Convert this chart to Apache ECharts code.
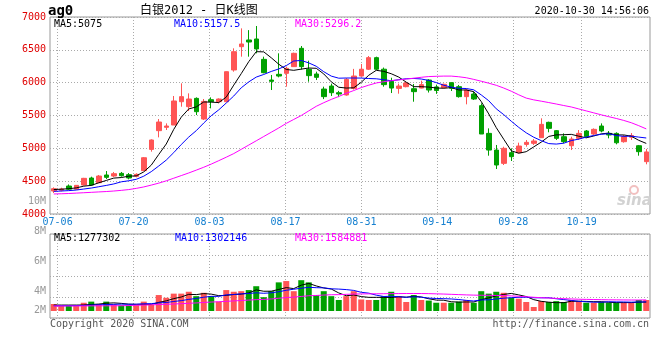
<!DOCTYPE html>
<html><head><meta charset="utf-8">
<script src="https://cdn.jsdelivr.net/npm/echarts@6/dist/echarts.min.js"></script>
<style>html,body{margin:0;padding:0;background:#fff}#c{width:660px;height:360px}</style>
</head><body><div id="c"></div>
<script>
const dates = ['07-03','07-06','07-07','07-08','07-09','07-10','07-13','07-14','07-15','07-16','07-17','07-20','07-21','07-22','07-23','07-24','07-27','07-28','07-29','07-30','07-31',
'08-03','08-04','08-05','08-06','08-07','08-10','08-11','08-12','08-13','08-14','08-17','08-18','08-19','08-20','08-21','08-24','08-25','08-26','08-27','08-28','08-31',
'09-01','09-02','09-03','09-04','09-07','09-08','09-09','09-10','09-11','09-14','09-15','09-16','09-17','09-18','09-21','09-22','09-23','09-24','09-25','09-28','09-29','09-30',
'10-09','10-12','10-13','10-14','10-15','10-16','10-19','10-20','10-21','10-22','10-23','10-26','10-27','10-28','10-29','10-30'];
const xLabels = ['07-06','07-20','08-03','08-17','08-31','09-14','09-28','10-19'];
const priceTicks = [4000,4500,5000,5500,6000,6500,7000];
const volTickLabels = ['10M','8M','6M','4M','2M'];

const opens = [4350,4362,4426,4378,4441,4548,4477,4594,4578,4619,
4599,4573,4660,4984,5269,5320,5355,5710,5634,5761,
5446,5741,5710,5710,6193,6548,6650,6665,6355,6040,
6127,6142,6244,6523,6203,6132,5903,5949,5847,5812,
5913,6101,6205,6381,6205,6020,5913,5939,5908,5918,
6040,5935,5924,6000,5939,5787,5827,5650,5228,4974,
4771,4934,4934,5060,5076,5162,5396,5269,5177,5040,
5152,5264,5218,5340,5228,5228,5101,5170,5040,4797];
const closes = [4385,4380,4378,4436,4543,4441,4578,4558,4614,4583,
4548,4604,4857,5127,5401,5340,5721,5787,5751,5558,
5715,5710,5751,6167,6472,6589,6619,6513,6152,6020,
6101,6218,6447,6244,6107,6081,5787,5847,5827,6050,
6101,6205,6381,6205,5970,5918,5949,5995,5863,5970,
5888,5880,5975,5914,5787,5888,5751,5218,4974,4746,
5000,4873,5035,5091,5112,5365,5304,5152,5101,5142,
5228,5178,5289,5264,5203,5085,5177,5195,4949,4945];
const lows = [4320,4345,4365,4372,4435,4431,4477,4533,4563,4568,
4528,4558,4655,4949,5167,5279,5355,5634,5568,5507,
5431,5609,5685,5705,6167,6396,6396,6447,6142,5888,
6081,5939,6244,6200,6015,6040,5750,5797,5780,5802,
5895,6091,6193,6193,5939,5842,5832,5929,5710,5913,
5850,5830,5914,5873,5772,5670,5736,5218,4888,4685,
4746,4807,4924,5025,5051,5162,5244,5127,5076,4974,
5127,5162,5203,5244,5152,5061,5086,5127,4888,4757];
const highs = [4405,4400,4450,4440,4550,4568,4594,4654,4640,4640,
4624,4619,4868,5137,5446,5380,5797,5990,5837,5776,
5751,5776,5761,6170,6523,6827,6800,6863,6396,6117,
6447,6244,6457,6558,6335,6167,5939,5985,5875,6070,
6210,6285,6406,6396,6230,6075,5985,6020,5980,6030,
6053,5970,5985,6005,5965,5903,5863,5685,5304,5051,
5025,5000,5086,5126,5142,5457,5406,5279,5228,5177,
5279,5279,5304,5380,5264,5244,5203,5233,5051,4990];

const ma5 = [4372,4378,4385,4398,4424,4436,4475,4511,4547,4555,
4576,4581,4641,4744,4907,5066,5289,5475,5600,5631,
5706,5704,5697,5780,5963,6138,6320,6472,6469,6379,
6281,6201,6188,6206,6223,6219,6133,6013,5930,5918,
5922,6006,6113,6188,6172,6136,6085,6007,5939,5939,
5933,5919,5915,5925,5889,5889,5863,5712,5524,5315,
5138,4962,4926,4949,5022,5095,5181,5205,5207,5213,
5185,5160,5188,5220,5232,5204,5204,5185,5122,5075];
const ma10 = [4345,4350,4356,4365,4380,4395,4415,4435,4458,4490,
4506,4528,4576,4645,4731,4821,4935,5058,5172,5269,
5386,5497,5586,5690,5797,5922,6012,6085,6125,6171,
6209,6260,6330,6338,6301,6250,6167,6100,6068,6071,
6071,6070,6063,6059,6045,6029,6045,6060,6064,6056,
6034,6002,5961,5932,5914,5911,5891,5813,5725,5602,
5513,5413,5319,5236,5169,5117,5072,5065,5078,5118,
5140,5171,5196,5214,5223,5195,5182,5186,5171,5157.5];
const ma30 = [4305,4308,4312,4318,4324,4330,4336,4342,4350,4360,
4372,4390,4412,4440,4470,4505,4545,4585,4625,4668,
4712,4760,4812,4865,4920,4985,5050,5115,5180,5245,
5310,5380,5440,5500,5570,5640,5695,5745,5790,5838,
5880,5925,5962,5995,6015,6030,6042,6055,6068,6082,
6093,6097,6100,6100,6090,6075,6050,6022,5992,5960,
5918,5870,5815,5765,5738,5718,5697,5675,5652,5630,
5600,5570,5540,5510,5482,5455,5425,5390,5345,5296.2];

const volumes = [1000000,710000,710000,710000,1180000,1340000,1000000,1340000,950000,810000,
810000,860000,1340000,860000,2280000,1890000,2480000,2480000,2750000,2120000,
2600000,2120000,1340000,2990000,2750000,2830000,2990000,3540000,1970000,2830000,
4090000,4280000,2830000,4400000,4090000,2280000,2830000,2120000,1570000,2120000,
2830000,1650000,1570000,1570000,2120000,2750000,2120000,1290000,2280000,1570000,
1490000,1180000,1180000,1180000,1340000,1570000,1180000,2830000,2480000,2750000,
2600000,1890000,1760000,1290000,570000,1410000,1290000,1410000,1290000,1570000,
1410000,1180000,1180000,1290000,1180000,1180000,1180000,1180000,1570000,1570000];
const volMa5 = [850000,850000,850000,850000,860000,930000,990000,1110000,1160000,1090000,
980000,950000,950000,940000,1230000,1450000,1770000,2000000,2380000,2340000,
2490000,2410000,2190000,2230000,2360000,2410000,2580000,3020000,2820000,2830000,
3080000,3340000,3200000,3690000,3940000,3580000,3290000,3140000,2580000,2180000,
2290000,2060000,1950000,1950000,1950000,1930000,2030000,1970000,2110000,2000000,
1750000,1560000,1540000,1320000,1270000,1290000,1290000,1620000,1880000,2160000,
2370000,2510000,2300000,2060000,1620000,1380000,1260000,1190000,1190000,1390000,
1390000,1370000,1330000,1330000,1250000,1200000,1200000,1200000,1260000,1277302];
const volMa10 = [750000,750000,760000,770000,800000,850000,880000,920000,950000,980000,
960000,970000,1030000,1050000,1160000,1210000,1360000,1480000,1660000,1790000,
1970000,2090000,2090000,2310000,2350000,2450000,2500000,2600000,2530000,2600000,
2750000,2960000,3110000,3250000,3390000,3330000,3310000,3170000,3130000,3060000,
2940000,2670000,2550000,2260000,2070000,2110000,2040000,1960000,2030000,1980000,
1840000,1790000,1760000,1720000,1640000,1520000,1430000,1580000,1600000,1720000,
1830000,1900000,1960000,1970000,1890000,1880000,1890000,1750000,1630000,1510000,
1390000,1320000,1260000,1260000,1320000,1300000,1290000,1260000,1290000,1302146];
const volMa30 = [720000,720000,720000,720000,730000,730000,740000,740000,750000,750000,
780000,820000,850000,880000,920000,960000,1000000,1050000,1100000,1150000,
1220000,1280000,1320000,1380000,1440000,1500000,1560000,1620000,1660000,1720000,
1820000,1920000,1980000,2080000,2180000,2220000,2280000,2320000,2340000,2380000,
2420000,2440000,2450000,2460000,2470000,2480000,2490000,2500000,2500000,2500000,
2480000,2450000,2420000,2380000,2340000,2300000,2270000,2250000,2240000,2220000,
2200000,2160000,2100000,2040000,1960000,1900000,1850000,1800000,1760000,1720000,
1680000,1660000,1640000,1620000,1600000,1590000,1580000,1570000,1570000,1584881];

const MONO = '"DejaVu Sans Mono", monospace';
const RED = '#ff5555', GREEN = '#00a000';
const labeled = new Set(xLabels);
const showIdx = (i) => labeled.has(dates[i]);
const candleData = dates.map((d, i) => [opens[i], closes[i], lows[i], highs[i]]);
const volData = volumes.map((v, i) => ({ value: v, itemStyle: { color: closes[i] >= opens[i] ? RED : GREEN } }));
const dotted = { type: [1, 2], color: '#aaaaaa', width: 1 };
const fmt = (v) => String(Math.round(v * 10) / 10);
const last = (a) => a[a.length - 1];

function txt(text, pos, color, font) {
  return Object.assign({ type: 'text', z: 100, style: { text: text, fill: color, font: font || ('10px ' + MONO) } }, pos);
}
const volLabelTops = [196, 226, 256, 286, 305];

const chart = echarts.init(document.getElementById('c'));
chart.setOption({
  animation: false,
  backgroundColor: '#ffffff',
  grid: [
    { left: 50, top: 17, width: 600, height: 197, show: true, borderColor: '#999', borderWidth: 1 },
    { left: 50, top: 234, width: 600, height: 84, show: true, borderColor: '#999', borderWidth: 1 }
  ],
  xAxis: [
    { type: 'category', gridIndex: 0, data: dates, boundaryGap: true, show: false, position: 'top' },
    { type: 'category', gridIndex: 0, data: dates, boundaryGap: false, position: 'bottom',
      axisLine: { show: false }, axisTick: { show: false },
      axisLabel: { interval: (i) => showIdx(i), color: '#1680d0', fontSize: 10, fontFamily: MONO, margin: 3 },
      splitLine: { show: true, interval: (i) => showIdx(i), lineStyle: dotted } },
    { type: 'category', gridIndex: 1, data: dates, boundaryGap: true, show: false, position: 'top' },
    { type: 'category', gridIndex: 1, data: dates, boundaryGap: false, position: 'bottom',
      axisLine: { show: false }, axisTick: { show: false }, axisLabel: { show: false },
      splitLine: { show: true, interval: (i) => showIdx(i), lineStyle: dotted } }
  ],
  yAxis: [
    { type: 'value', gridIndex: 0, min: priceTicks[0], max: last(priceTicks), interval: priceTicks[1] - priceTicks[0],
      axisLine: { show: false }, axisTick: { show: false },
      axisLabel: { color: '#e00000', fontSize: 10, fontFamily: MONO, margin: 4, formatter: (v) => String(v) },
      splitLine: { lineStyle: dotted } },
    { type: 'value', gridIndex: 1, min: -1000000, max: 11000000, show: false, splitLine: { show: false } },
    { type: 'value', gridIndex: 1, min: 0, max: 4, interval: 1, position: 'left',
      axisLine: { show: false }, axisTick: { show: false }, axisLabel: { show: false },
      splitLine: { lineStyle: dotted } }
  ],
  series: [
    { type: 'candlestick', xAxisIndex: 0, yAxisIndex: 0, data: candleData, barWidth: 5,
      itemStyle: { color: RED, color0: GREEN, borderColor: RED, borderColor0: GREEN, borderWidth: 1 } },
    { type: 'line', xAxisIndex: 0, yAxisIndex: 0, data: ma5, symbol: 'none', lineStyle: { color: '#000000', width: 1 } },
    { type: 'line', xAxisIndex: 0, yAxisIndex: 0, data: ma10, symbol: 'none', lineStyle: { color: '#0000ff', width: 1 } },
    { type: 'line', xAxisIndex: 0, yAxisIndex: 0, data: ma30, symbol: 'none', lineStyle: { color: '#ff00ff', width: 1 } },
    { type: 'bar', xAxisIndex: 2, yAxisIndex: 1, data: volData, barWidth: 6 },
    { type: 'line', xAxisIndex: 2, yAxisIndex: 1, data: volMa5, symbol: 'none', lineStyle: { color: '#000000', width: 1 } },
    { type: 'line', xAxisIndex: 2, yAxisIndex: 1, data: volMa10, symbol: 'none', lineStyle: { color: '#0000ff', width: 1 } },
    { type: 'line', xAxisIndex: 2, yAxisIndex: 1, data: volMa30, symbol: 'none', lineStyle: { color: '#ff00ff', width: 1 } }
  ],
  graphic: [
    txt('ag0', { left: 48, top: 4 }, '#000', 'bold 14px ' + MONO),
    txt('白银2012 - 日K线图', { left: 140, top: 5 }, '#000', '12px "DejaVu Sans Mono", "Noto Sans CJK SC"'),
    txt('2020-10-30 14:56:06', { right: 11, top: 6 }, '#000'),
    txt('MA5:' + fmt(last(ma5)), { left: 54, top: 19 }, '#000000'),
    txt('MA10:' + fmt(last(ma10)), { left: 174, top: 19 }, '#0000ff'),
    txt('MA30:' + fmt(last(ma30)), { left: 295, top: 19 }, '#ff00ff'),
    txt('MA5:' + last(volMa5), { left: 54, top: 233 }, '#000000'),
    txt('MA10:' + last(volMa10), { left: 175, top: 233 }, '#0000ff'),
    txt('MA30:' + last(volMa30), { left: 295, top: 233 }, '#ff00ff'),
    ...volTickLabels.map((t, k) => txt(t, { right: 614, top: volLabelTops[k] }, '#999999')),
    txt('Copyright 2020 SINA.COM', { left: 50, top: 319 }, '#555555'),
    txt('http://finance.sina.com.cn', { right: 11, top: 319 }, '#555555'),
    { type: 'circle', z: 90, shape: { cx: 634, cy: 190, r: 4 }, style: { fill: 'none', stroke: '#f2c0c0', lineWidth: 2 } },
    txt('sina', { left: 617, top: 194 }, '#d2d2d2', 'italic bold 15px "DejaVu Sans"')
  ]
});
</script></body></html>
